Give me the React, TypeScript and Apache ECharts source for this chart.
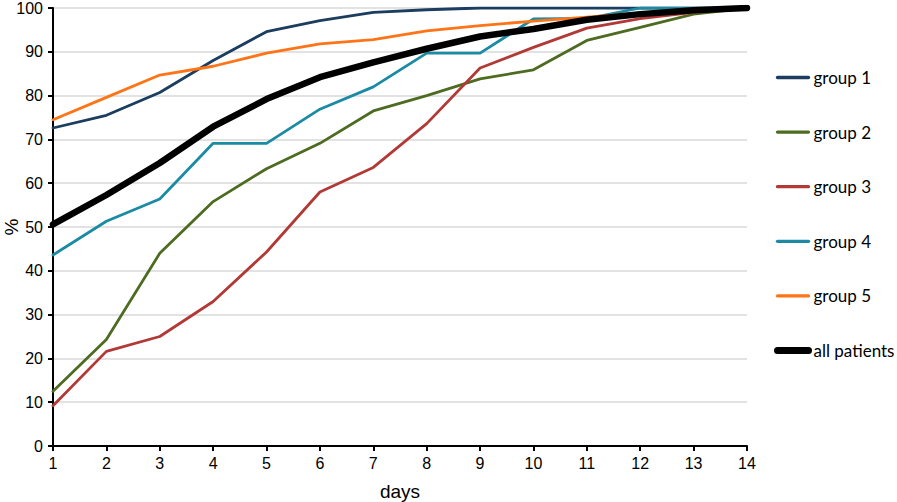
import React, { useEffect, useRef } from "react";
import * as echarts from "echarts";

const days = ["1", "2", "3", "4", "5", "6", "7", "8", "9", "10", "11", "12", "13", "14"];
const group1 = [72.6, 75.5, 80.7, 88.0, 94.6, 97.1, 99.0, 99.6, 100, 100, 100, 100, 100, 100];
const group2 = [12.5, 24.3, 44.0, 55.8, 63.3, 69.1, 76.5, 80.0, 83.8, 85.9, 92.6, 95.6, 98.6, 100];
const group3 = [9.2, 21.6, 25.0, 33.0, 44.3, 58.0, 63.6, 73.6, 86.3, 91.0, 95.4, 97.6, 99.0, 100];
const group4 = [43.6, 51.3, 56.4, 69.1, 69.1, 76.9, 82.0, 89.7, 89.7, 97.5, 97.6, 100, 100, 100];
const group5 = [74.5, 79.6, 84.7, 86.7, 89.7, 91.8, 92.8, 94.8, 96.0, 97.0, 97.9, 98.9, 99.5, 100];
const allPatients = [50.6, 57.3, 64.6, 72.9, 79.2, 84.2, 87.6, 90.7, 93.5, 95.2, 97.3, 98.6, 99.5, 100];
const yTicks = { min: 0, max: 100, interval: 10 };

const seriesDefs = [
  { name: "group 1", data: group1, color: "#1B3D5F", width: 2.8 },
  { name: "group 2", data: group2, color: "#4E6B22", width: 2.8 },
  { name: "group 3", data: group3, color: "#B23A36", width: 2.8 },
  { name: "group 4", data: group4, color: "#1A8BA2", width: 2.8 },
  { name: "group 5", data: group5, color: "#FF7417", width: 2.8 },
  { name: "all patients", data: allPatients, color: "#000000", width: 6.5 },
];

export default function App() {
  const ref = useRef<HTMLDivElement>(null);
  useEffect(() => {
    if (!ref.current) return;
    const chart = echarts.init(ref.current, null, { renderer: "svg" });
    const axisFont = { fontFamily: "Liberation Sans", fontSize: 16, color: "#000" };
    chart.setOption({
      animation: false,
      backgroundColor: "#fff",
      grid: { left: 53, right: 150, top: 8, bottom: 56, containLabel: false, outerBoundsMode: "none" },
      legend: {
        orient: "vertical",
        left: 774,
        top: 69,
        padding: 0,
        itemWidth: 31,
        itemHeight: 14,
        itemGap: 37.6,
        itemStyle: { opacity: 0 },
        textStyle: { fontFamily: "Lato", fontSize: 17, color: "#000", padding: [0, 0, 0, 0] },
        data: seriesDefs.map((s) => ({
          name: s.name,
          lineStyle: { width: s.width + 0.5, color: s.color, cap: "round" },
        })),
      },
      xAxis: {
        type: "category",
        data: days,
        boundaryGap: false,
        name: "days",
        nameLocation: "middle",
        nameGap: 36,
        nameMoveOverlap: false,
        nameTextStyle: { fontFamily: "Liberation Sans", fontSize: 19, color: "#000" },
        axisLine: { lineStyle: { color: "#000", width: 2 } },
        axisTick: { show: true, length: 5, lineStyle: { color: "#000", width: 2 }, alignWithLabel: true },
        axisLabel: { ...axisFont, margin: 9 },
        splitLine: { show: false },
      },
      yAxis: {
        type: "value",
        min: yTicks.min,
        max: yTicks.max,
        interval: yTicks.interval,
        name: "%",
        nameLocation: "middle",
        nameGap: 32,
        nameMoveOverlap: false,
        nameRotate: 90,
        nameTextStyle: { fontFamily: "Liberation Sans", fontSize: 19, color: "#000" },
        axisLine: { show: true, lineStyle: { color: "#000", width: 2 } },
        axisTick: { show: true, length: 5, lineStyle: { color: "#000", width: 2 } },
        axisLabel: { ...axisFont, margin: 10 },
        splitLine: { show: true, lineStyle: { color: "#D9D9D9", width: 1.5 } },
      },
      series: seriesDefs.map((s) => ({
        name: s.name,
        type: "line",
        data: s.data,
        symbol: "none",
        color: s.color,
        lineStyle: { color: s.color, width: s.width, cap: "round", join: "round" },
        itemStyle: { color: s.color },
        z: s.name === "all patients" ? 3 : 2,
      })),
    });
    return () => chart.dispose();
  }, []);
  return <div ref={ref} style={{ width: 897, height: 502, position: "absolute", left: 0, top: 0 }} />;
}
